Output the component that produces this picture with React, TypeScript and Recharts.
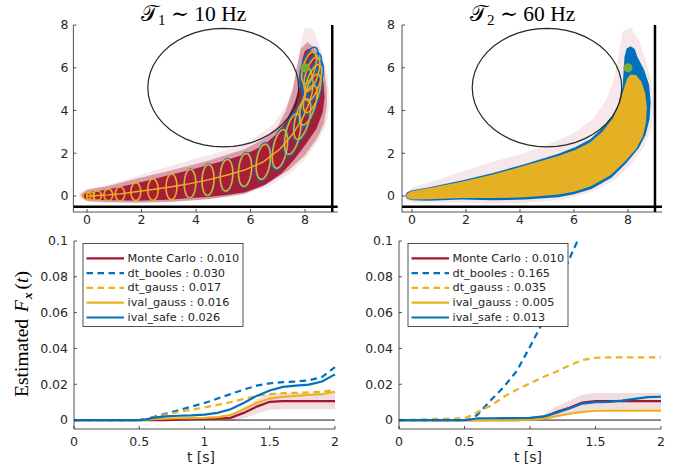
import React from 'react';
import { ComposedChart, Scatter, Line, Area, XAxis, YAxis, ReferenceLine } from 'recharts';

const RED = '#A2142F';
const BLUE = '#0072BD';
const YELLOW = '#EDB120';
const GREEN = '#77AC30';
const INK = '#262626';
const SANS = "'DejaVu Sans', sans-serif";
const SERIF = "'Liberation Serif', 'DejaVu Serif', serif";

// ---------- top panels: state space ----------
const obstacle = { x: 5, y: 5.07, r: 2.77 };
const goal = [{ x: 8, y: 6 }];

// 10 Hz: covariance ellipses [x, y, sx, sy, rho, safe scale (0 = not drawn)]
const ellipses10 = [
  [0.0, 0.0, 0.14, 0.17, 0, 0],
  [0.13, 0.0, 0.14, 0.19, 0, 0],
  [0.38, 0.02, 0.15, 0.22, 0, 0],
  [0.78, 0.05, 0.16, 0.27, 0, 0],
  [1.21, 0.1, 0.17, 0.33, 0, 0],
  [1.79, 0.2, 0.18, 0.42, 0, 0],
  [2.42, 0.3, 0.19, 0.5, 0, 0],
  [3.1, 0.43, 0.2, 0.6, 0.03, 0],
  [3.78, 0.58, 0.21, 0.67, 0.05, 1.03],
  [4.44, 0.75, 0.22, 0.72, 0.08, 1.04],
  [5.12, 0.97, 0.23, 0.74, 0.12, 1.05],
  [5.8, 1.22, 0.24, 0.77, 0.18, 1.06],
  [6.47, 1.6, 0.26, 0.82, 0.28, 1.08],
  [7.08, 2.2, 0.28, 0.9, 0.42, 1.1],
  [7.55, 2.9, 0.3, 0.95, 0.5, 1.12],
  [7.9, 3.6, 0.31, 0.95, 0.55, 1.13],
  [8.12, 4.25, 0.32, 0.93, 0.6, 1.15],
  [8.26, 4.8, 0.32, 0.9, 0.62, 1.17],
  [8.3, 5.3, 0.31, 0.85, 0.62, 1.2],
  [8.25, 5.7, 0.29, 0.8, 0.6, 1.23],
  [8.15, 6.0, 0.27, 0.75, 0.55, 1.28],
];

// Monte Carlo trajectory bundles (outline polygons)
const coreBand10 = [
  [-0.18, 0.0], [-0.1, 0.15], [0, 0.18], [0.35, 0.22], [0.75, 0.3], [1.2, 0.42], [1.8, 0.6], [2.42, 0.78],
  [3.1, 1.0], [3.78, 1.22], [4.45, 1.45], [5.12, 1.68], [5.8, 1.95], [6.47, 2.35], [7.0, 2.95], [7.33, 3.55],
  [7.6, 4.3], [7.8, 5.1], [7.85, 5.8], [7.9, 6.4], [8.0, 6.8], [8.15, 6.9], [8.35, 6.6], [8.55, 6.0],
  [8.68, 5.3], [8.72, 4.6], [8.65, 3.9], [8.42, 3.15], [8.05, 2.45], [7.6, 1.7], [7.14, 1.05], [6.5, 0.5],
  [5.8, 0.17], [5.12, 0.04], [4.45, -0.05], [3.78, -0.1], [3.1, -0.17], [2.42, -0.2], [1.8, -0.22],
  [1.2, -0.2], [0.75, -0.2], [0.35, -0.18], [0, -0.17], [-0.12, -0.12],
];
const midBand10 = [
  [-0.25, 0.05], [0, 0.3], [0.75, 0.45], [1.8, 0.8], [3.1, 1.2], [4.45, 1.65], [5.8, 2.2], [6.47, 2.65],
  [7.0, 3.25], [7.3, 4.0], [7.55, 5.0], [7.7, 6.0], [7.85, 6.9], [8.1, 7.2], [8.45, 6.8], [8.7, 6.0],
  [8.8, 5.0], [8.8, 4.2], [8.7, 3.4], [8.45, 2.7], [8.0, 1.9], [7.4, 1.2], [6.6, 0.55], [5.8, 0.1],
  [4.45, -0.15], [3.1, -0.27], [1.8, -0.3], [0.75, -0.28], [0, -0.25],
];
const outerBand10 = [
  [-0.3, 0.15], [0, 0.3], [1, 0.6], [2, 1.0], [3, 1.38], [4, 1.75], [5, 2.1], [6, 2.6], [6.8, 3.3],
  [7.3, 4.2], [7.6, 5.2], [7.7, 6.2], [7.85, 7.2], [8.0, 7.9], [8.3, 7.8], [8.6, 6.8], [8.85, 5.5],
  [8.9, 4.3], [8.8, 3.4], [8.5, 2.6], [8.0, 1.7], [7.4, 1.0], [6.6, 0.4], [5.5, 0.0], [4.4, -0.15],
  [3, -0.3], [1.5, -0.35], [0.3, -0.3], [-0.25, -0.15],
];

// 60 Hz: the ellipses overlap into solid tubes
const safeBand60 = [
  [-0.25, 0.0], [-0.18, 0.17], [0, 0.27], [0.6, 0.4], [1.84, 0.72], [3.0, 1.07], [4.19, 1.5], [5.42, 1.98],
  [6.04, 2.28], [6.6, 2.65], [7.02, 3.13], [7.4, 3.7], [7.64, 4.3], [7.8, 5.1], [7.84, 5.9], [7.87, 6.5],
  [7.95, 6.9], [8.1, 7.0], [8.25, 6.88], [8.35, 6.5], [8.6, 5.9], [8.78, 5.2], [8.84, 4.4], [8.8, 3.6],
  [8.65, 2.85], [8.4, 2.25], [7.95, 1.55], [7.4, 0.87], [6.65, 0.33], [6.0, 0.08], [5.42, -0.06],
  [4.19, -0.17], [3.0, -0.2], [1.84, -0.17], [0.6, -0.22], [0, -0.2], [-0.18, -0.13],
];
const gaussBand60 = [
  [-0.22, 0.0], [-0.15, 0.14], [0, 0.23], [0.6, 0.36], [1.84, 0.66], [3.0, 1.0], [4.19, 1.42], [5.42, 1.87],
  [6.04, 2.15], [6.6, 2.5], [7.05, 3.0], [7.45, 3.65], [7.7, 4.4], [7.87, 5.1], [7.97, 5.5], [8.1, 5.68],
  [8.3, 5.66], [8.5, 5.35], [8.64, 4.8], [8.7, 4.1], [8.66, 3.4], [8.55, 2.8], [8.3, 2.2], [7.88, 1.6],
  [7.35, 0.97], [6.62, 0.45], [6.0, 0.2], [5.42, 0.07], [4.19, -0.06], [3.0, -0.1], [1.84, -0.09],
  [0.6, -0.15], [0, -0.16], [-0.16, -0.1],
];
const outerBand60 = [
  [-0.3, 0.05], [0, 0.38], [1, 0.78], [2, 1.2], [3, 1.6], [4.2, 2.02], [5.2, 2.5], [6.0, 2.95], [6.7, 3.6],
  [7.2, 4.5], [7.5, 5.5], [7.65, 6.6], [7.8, 7.7], [8.1, 7.9], [8.4, 7.3], [8.65, 6.4], [8.88, 5.3],
  [8.95, 4.2], [8.88, 3.2], [8.6, 2.3], [8.1, 1.45], [7.5, 0.75], [6.7, 0.2], [5.5, -0.18], [4.2, -0.32],
  [3, -0.35], [1.8, -0.3], [0.6, -0.32], [0, -0.3], [-0.25, -0.18],
];

// ---------- bottom panels: failure probability ----------
const tGrid = [0, 0.5, 0.55, 0.6, 0.7, 0.8, 0.9, 1.0, 1.1, 1.2, 1.3, 1.4, 1.5, 1.6, 1.7, 1.8, 1.9, 2.0];

const mc10 = [0, 0, 0, 0, 0, 0.0002, 0.0005, 0.0007, 0.0008, 0.0012, 0.004, 0.0075, 0.0102, 0.0106, 0.0106, 0.0106, 0.0106, 0.0106];
const mcSpread10 = [0, 0, 0, 0, 0, 0, 0, 0, 0.0005, 0.002, 0.003, 0.004, 0.0045, 0.0045, 0.0045, 0.0045, 0.0045, 0.0045];
const booles10 = [0, 0, 0.0005, 0.0015, 0.0035, 0.0055, 0.0075, 0.0095, 0.012, 0.0145, 0.017, 0.0192, 0.0205, 0.0212, 0.0215, 0.0222, 0.024, 0.0295];
const dtGauss10 = [0, 0, 0.0004, 0.0012, 0.003, 0.0045, 0.0058, 0.007, 0.0085, 0.01, 0.0118, 0.0135, 0.0145, 0.015, 0.0152, 0.0155, 0.0158, 0.0168];
const ivGauss10 = [0, 0, 0.0002, 0.0005, 0.0008, 0.001, 0.0011, 0.0012, 0.0016, 0.0028, 0.006, 0.0095, 0.012, 0.013, 0.0135, 0.014, 0.0145, 0.0158];
const ivSafe10 = [0, 0, 0.0003, 0.0012, 0.002, 0.0024, 0.0026, 0.003, 0.004, 0.006, 0.0095, 0.0135, 0.0165, 0.0185, 0.0192, 0.0198, 0.0215, 0.0255];

const mc60 = [0, 0, 0, 0, 0, 0, 0, 0.0003, 0.0013, 0.0045, 0.0068, 0.0098, 0.0106, 0.0106, 0.0106, 0.0106, 0.0106, 0.0106];
const mcSpread60 = [0, 0, 0, 0, 0, 0, 0, 0, 0.0015, 0.003, 0.004, 0.0045, 0.0045, 0.0045, 0.0045, 0.0045, 0.0045, 0.0045];
const booles60 = [0, 0, 0.0005, 0.003, 0.011, 0.0185, 0.0275, 0.041, 0.055, 0.0726, 0.09, 0.106, 0.12, 0.13, 0.14, 0.15, 0.158, 0.165];
const dtGauss60 = [0, 0.001, 0.0025, 0.0045, 0.008, 0.013, 0.017, 0.0205, 0.024, 0.027, 0.0305, 0.0335, 0.0348, 0.035, 0.035, 0.035, 0.035, 0.035];
const ivGauss60 = [0, 0, 0, 0, 0, 0, 0, 0.0002, 0.0008, 0.0022, 0.0035, 0.0046, 0.0052, 0.0053, 0.0053, 0.0053, 0.0053, 0.0053];
const ivSafe60 = [0, 0, 0.0003, 0.001, 0.001, 0.0011, 0.0011, 0.0012, 0.002, 0.004, 0.0065, 0.0092, 0.01, 0.0102, 0.0108, 0.0118, 0.0128, 0.013];

const seriesNames = ['Monte Carlo', 'dt_booles', 'dt_gauss', 'ival_gauss', 'ival_safe'];
const seriesColors = [RED, BLUE, YELLOW, YELLOW, BLUE];
const seriesDashed = [false, true, true, false, false];
const finals10 = ['0.010', '0.030', '0.017', '0.016', '0.026'];
const finals60 = ['0.010', '0.165', '0.035', '0.005', '0.013'];

const xTicksTop = [0, 2, 4, 6, 8];
const yTicksTop = [0, 2, 4, 6, 8];
const tTicks = [0, 0.5, 1, 1.5, 2];
const pTicks = [0, 0.02, 0.04, 0.06, 0.08, 0.1];

// ---------- helpers ----------
const SEG = 48;
const toPts = (arr: number[][]) => arr.map(([x, y]) => ({ x, y }));
const ellipsePts = (cx: number, cy: number, sx: number, sy: number, rho: number) => {
  const k = Math.sqrt(1 - rho * rho);
  const out: { x: number; y: number }[] = [];
  for (let i = 0; i <= SEG; i++) {
    const a = (2 * Math.PI * i) / SEG;
    out.push({ x: cx + sx * Math.cos(a), y: cy + sy * (rho * Math.cos(a) + k * Math.sin(a)) });
  }
  return out;
};
const gaussEllipses10 = ellipses10.flatMap(([x, y, sx, sy, r]) => ellipsePts(x, y, sx, sy, r));
const safeEllipses10 = ellipses10
  .filter((e) => e[5] > 0)
  .flatMap(([x, y, sx, sy, r, s]) => ellipsePts(x, y, sx * s, sy * s, r));
const meanPath10 = ellipses10.map(([x, y]) => ({ x, y }));
const obstaclePts = ellipsePts(obstacle.x, obstacle.y, obstacle.r, obstacle.r, 0);

const paths = (chunk: number, style: any, close = true) => (props: any) => {
  const pts = props.points || [];
  const n = chunk > 0 ? chunk : pts.length;
  const out: React.ReactNode[] = [];
  for (let i = 0; i + 1 < pts.length; i += n) {
    const seg = pts.slice(i, i + n);
    const d =
      seg.map((p: any, j: number) => `${j ? 'L' : 'M'}${p.x.toFixed(2)},${p.y.toFixed(2)}`).join('') +
      (close ? 'Z' : '');
    out.push(<path key={i} d={d} {...style} />);
  }
  return <g>{out}</g>;
};
const noDot = () => <g />;
const greenDot = (p: any) => <circle cx={p.cx} cy={p.cy} r={4.5} fill={GREEN} />;

const tickStyle = { fill: INK, fontSize: 12.5, fontFamily: SANS };
const axisStyle = { stroke: INK, strokeWidth: 0.8 };

const blob = (data: number[][], fill: string, opacity: number) => (
  <Scatter
    data={toPts(data)}
    line={paths(0, { fill, fillOpacity: opacity, stroke: 'none' })}
    shape={noDot}
    isAnimationActive={false}
  />
);

const StatePanel = ({ fast }: { fast: boolean }) => {
  const w = fast ? 340 : 350;
  const yw = fast ? 62 : 73.4;
  const right = fast ? 18 : 12.3;
  const xDomain = fast ? [-0.37, 9.26] : [-0.5, 9.2];
  return (
    <ComposedChart width={w} height={235} margin={{ top: 25, right, bottom: 0, left: 0 }}>
      <XAxis
        type="number"
        dataKey="x"
        domain={xDomain}
        allowDataOverflow
        ticks={xTicksTop}
        height={23}
        tickSize={-3}
        tickMargin={6.5}
        tick={tickStyle}
        axisLine={axisStyle}
        tickLine={axisStyle}
      />
      <YAxis
        type="number"
        dataKey="y"
        domain={[-0.75, 8]}
        allowDataOverflow
        ticks={yTicksTop}
        width={yw}
        tickSize={-3}
        tickMargin={fast ? 10 : 8}
        tick={tickStyle}
        axisLine={axisStyle}
        tickLine={axisStyle}
      />
      {fast ? blob(outerBand60, RED, 0.1) : blob(outerBand10, RED, 0.1)}
      {fast ? null : blob(midBand10, RED, 0.35)}
      {fast ? null : blob(coreBand10, RED, 0.92)}
      {fast ? blob(safeBand60, BLUE, 1) : null}
      {fast ? blob(gaussBand60, '#E6B024', 1) : null}
      {fast ? null : (
        <Scatter
          data={safeEllipses10}
          line={paths(SEG + 1, { fill: 'none', stroke: BLUE, strokeWidth: 1.6 })}
          shape={noDot}
          isAnimationActive={false}
        />
      )}
      {fast ? null : (
        <Scatter
          data={gaussEllipses10}
          line={paths(SEG + 1, { fill: 'none', stroke: '#E2AE2A', strokeWidth: 1.6 })}
          shape={noDot}
          isAnimationActive={false}
        />
      )}
      {fast ? null : (
        <Scatter
          data={meanPath10}
          line={paths(0, { fill: 'none', stroke: YELLOW, strokeWidth: 1.4 }, false)}
          shape={noDot}
          isAnimationActive={false}
        />
      )}
      <Scatter
        data={obstaclePts}
        line={paths(0, { fill: 'none', stroke: INK, strokeWidth: 1.2 })}
        shape={noDot}
        isAnimationActive={false}
      />
      <ReferenceLine y={-0.5} stroke="#000" strokeWidth={2.5} />
      <ReferenceLine x={9} stroke="#000" strokeWidth={2.5} />
      <Scatter data={goal} shape={greenDot} isAnimationActive={false} />
    </ComposedChart>
  );
};

const buildRows = (mc: number[], spread: number[], series: number[][]) =>
  tGrid.map((t, i) => ({
    t,
    mc: mc[i],
    band: [mc[i] - spread[i], mc[i] + spread[i]],
    booles: series[0][i],
    dtGauss: series[1][i],
    ivGauss: series[2][i],
    ivSafe: series[3][i],
  }));
const rows10 = buildRows(mc10, mcSpread10, [booles10, dtGauss10, ivGauss10, ivSafe10]);
const rows60 = buildRows(mc60, mcSpread60, [booles60, dtGauss60, ivGauss60, ivSafe60]);

const ProbPanel = ({ fast }: { fast: boolean }) => {
  const keys = ['mc', 'booles', 'dtGauss', 'ivGauss', 'ivSafe'];
  return (
    <ComposedChart
      width={fast ? 338 : 350}
      height={238}
      data={fast ? rows60 : rows10}
      margin={{ top: 11, right: fast ? 17 : 15, bottom: 0, left: 0 }}
    >
      <XAxis
        type="number"
        dataKey="t"
        domain={[0, 2]}
        ticks={tTicks}
        height={39}
        tickSize={-3}
        tickMargin={11}
        tick={tickStyle}
        axisLine={axisStyle}
        tickLine={axisStyle}
      />
      <YAxis
        type="number"
        domain={[-0.005, 0.1]}
        allowDataOverflow
        ticks={pTicks}
        tickFormatter={(v: number) => String(v)}
        width={fast ? 59 : 74}
        tickSize={-3}
        tickMargin={9}
        tick={tickStyle}
        axisLine={axisStyle}
        tickLine={axisStyle}
      />
      <ReferenceLine y={0} stroke="#000" strokeWidth={0.9} />
      <Area
        type="linear"
        dataKey="band"
        stroke="none"
        fill={RED}
        fillOpacity={0.15}
        isAnimationActive={false}
      />
      {keys.map((k, i) => (
        <Line
          key={k}
          type="linear"
          dataKey={k}
          stroke={seriesColors[i]}
          strokeWidth={2.2}
          strokeDasharray={seriesDashed[i] ? '6.5 4.5' : undefined}
          dot={false}
          activeDot={false}
          isAnimationActive={false}
        />
      ))}
    </ComposedChart>
  );
};

const LegendBox = ({ x, finals }: { x: number; finals: string[] }) => (
  <g>
    <rect x={x} y={243.5} width={160} height={83} fill="#fff" stroke={INK} strokeWidth={0.8} />
    {seriesNames.map((n, i) => {
      const y = 258.3 + i * 14.8;
      return (
        <g key={n}>
          <line
            x1={x + 3.5}
            x2={x + 41}
            y1={y}
            y2={y}
            stroke={seriesColors[i]}
            strokeWidth={2.2}
            strokeDasharray={seriesDashed[i] ? '6.5 4.5' : undefined}
          />
          <text x={x + 44.5} y={y} dominantBaseline="central" fontFamily={SANS} fontSize={11.3} fill={INK}>
            {`${n} : ${finals[i]}`}
          </text>
        </g>
      );
    })}
  </g>
);

const Title = ({ x, idx, hz }: { x: number; idx: string; hz: string }) => (
  <text x={x} y={21} fontFamily={SERIF} fontSize={21.5} fill="#000">
    𝒯<tspan fontSize={15} dy={4}>{idx}</tspan>
    <tspan dy={-4}>{` ∼ ${hz} Hz`}</tspan>
  </text>
);

export default function App() {
  return (
    <div style={{ position: 'absolute', left: 0, top: 0, width: 678, height: 468, background: '#fff' }}>
      <div style={{ position: 'absolute', left: 0, top: 0 }}>
        <StatePanel fast={false} />
      </div>
      <div style={{ position: 'absolute', left: 340, top: 0 }}>
        <StatePanel fast={true} />
      </div>
      <div style={{ position: 'absolute', left: 0, top: 230 }}>
        <ProbPanel fast={false} />
      </div>
      <div style={{ position: 'absolute', left: 340, top: 230 }}>
        <ProbPanel fast={true} />
      </div>
      <svg
        width={678}
        height={468}
        style={{ position: 'absolute', left: 0, top: 0, pointerEvents: 'none' }}
      >
        <Title x={141} idx="1" hz="10" />
        <Title x={470} idx="2" hz="60" />
        <LegendBox x={83} finals={finals10} />
        <LegendBox x={408} finals={finals60} />
        <text x={201} y={462} textAnchor="middle" fontFamily={SANS} fontSize={14} fill={INK}>
          t [s]
        </text>
        <text x={528} y={462} textAnchor="middle" fontFamily={SANS} fontSize={14} fill={INK}>
          t [s]
        </text>
        <text
          transform="translate(28,334) rotate(-90)"
          textAnchor="middle"
          fontFamily={SERIF}
          fontSize={19.5}
          fill="#000"
        >
          Estimated<tspan dx={7} fontStyle="italic">F</tspan>
          <tspan fontSize={13} fontWeight="bold" fontStyle="italic" dy={3.5} dx={1}>
            x
          </tspan>
          <tspan dy={-3.5} dx={3}>(</tspan>
          <tspan fontStyle="italic">t</tspan>)
        </text>
      </svg>
    </div>
  );
}
